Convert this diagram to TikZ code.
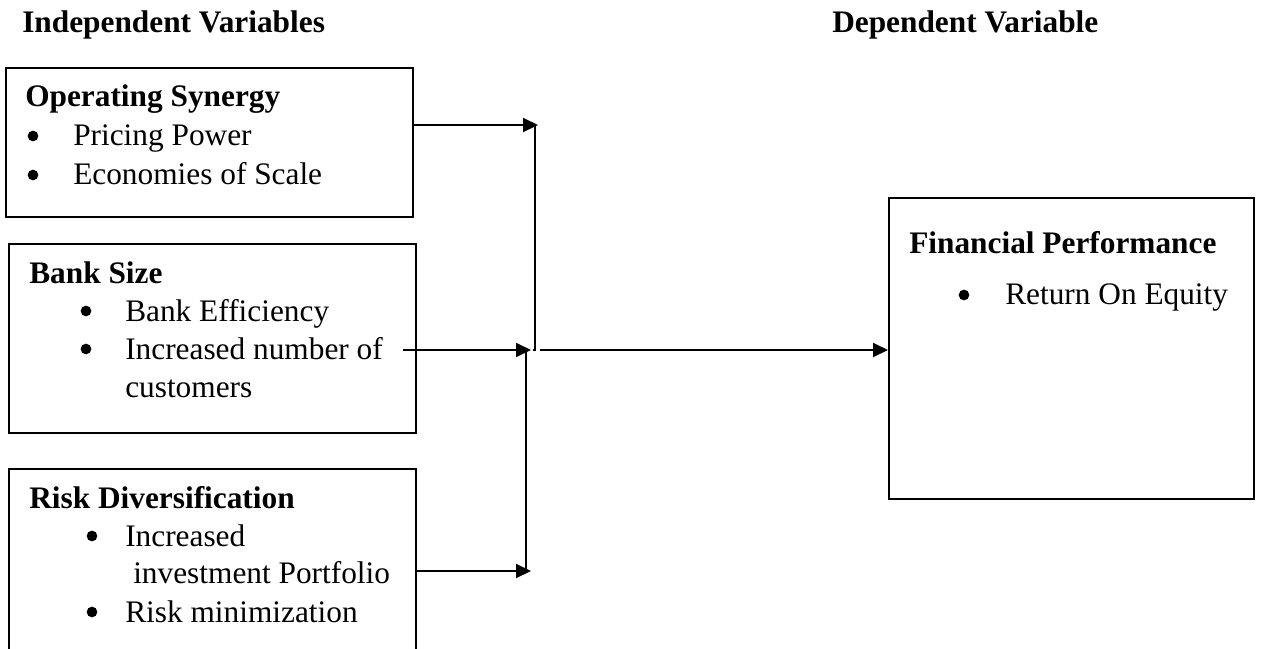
\documentclass[tikz,border=0pt]{standalone}
\usepackage{fontspec}
\setmainfont{Liberation Serif}
\usetikzlibrary{arrows.meta}

\tikzset{
    box/.style={shape=rectangle, draw=black, line width=1.4pt, anchor=north west, inner sep=0pt},
    txt/.style={anchor=base west, inner sep=0pt, font=\fontsize{23.5}{28}\selectfont},
    hd/.style={anchor=base west, inner sep=0pt, font=\fontsize{23.5}{28}\selectfont\bfseries},
    dot/.style={shape=circle, fill=black, inner sep=0pt, minimum size=8pt},
    ln/.style={line width=1.5pt},
    arr/.style={line width=1.5pt, -{Triangle[length=11.25pt,width=10.5pt]}}
}

\begin{document}
\begin{tikzpicture}[x=0.75pt,y=-0.75pt]
    \useasboundingbox (0,0) rectangle (1261,649);

    % headings
    \node[hd] (indep) at (22,33) {Independent Variables};
    \node[hd] (dep) at (832,33) {Dependent Variable};

    % boxes
    \node[box, minimum width=305.25pt, minimum height=111.75pt] (syn) at (5,67) {};
    \node[box, minimum width=305.25pt, minimum height=141.75pt] (size) at (8,243) {};
    \node[box, minimum width=305.25pt, minimum height=165pt] (risk) at (8,468) {};
    \node[box, minimum width=273.75pt, minimum height=225.75pt] (perf) at (888,197) {};

    % operating synergy
    \node[hd] (synT) at (25,107) {Operating Synergy};
    \node[dot] (synD1) at (33,136) {};
    \node[txt] (price) at (73,146) {Pricing Power};
    \node[dot] (synD2) at (33,175) {};
    \node[txt] (scale) at (73,185) {Economies of Scale};

    % bank size
    \node[hd] (sizeT) at (29,283) {Bank Size};
    \node[dot] (sizeD1) at (86,311) {};
    \node[txt] (eff) at (125,321) {Bank Efficiency};
    \node[dot] (sizeD2) at (86,349) {};
    \node[txt] (cust) at (125,359) {Increased number of};
    \node[txt] (cust2) at (125,397) {customers};

    % risk diversification
    \node[hd] (riskT) at (29,508) {Risk Diversification};
    \node[dot] (riskD1) at (92,536) {};
    \node[txt] (invest) at (125,546) {Increased};
    \node[txt] (invest2) at (133,583) {investment Portfolio};
    \node[dot] (riskD2) at (92,612) {};
    \node[txt] (minim) at (125,622) {Risk minimization};

    % financial performance
    \node[hd] (perfT) at (909,253) {Financial Performance};
    \node[dot] (perfD) at (964,295) {};
    \node[txt] (roe) at (1005,305) {Return On Equity};

    % connectors
    \coordinate (j1) at (538,125);
    \coordinate (j2) at (531,350);
    \coordinate (j3) at (531,571);
    \coordinate (j4) at (540,350);
    \coordinate (s2) at (403,350);
    \draw[arr] (syn.east |- j1) -- (j1);
    \draw[arr] (s2) -- (j2);
    \draw[arr] (risk.east |- j3) -- (j3);
    \draw[ln] ([xshift=-2pt]j1) -- ([xshift=-2pt]j1 |- j2) -- ([xshift=-4pt]j1 |- j2);
    \draw[ln] ([xshift=-3.75pt]j2) -- ([xshift=-3.75pt]j3);
    \draw[arr] (j4) -- (perf.west |- j4);
\end{tikzpicture}
\end{document}
